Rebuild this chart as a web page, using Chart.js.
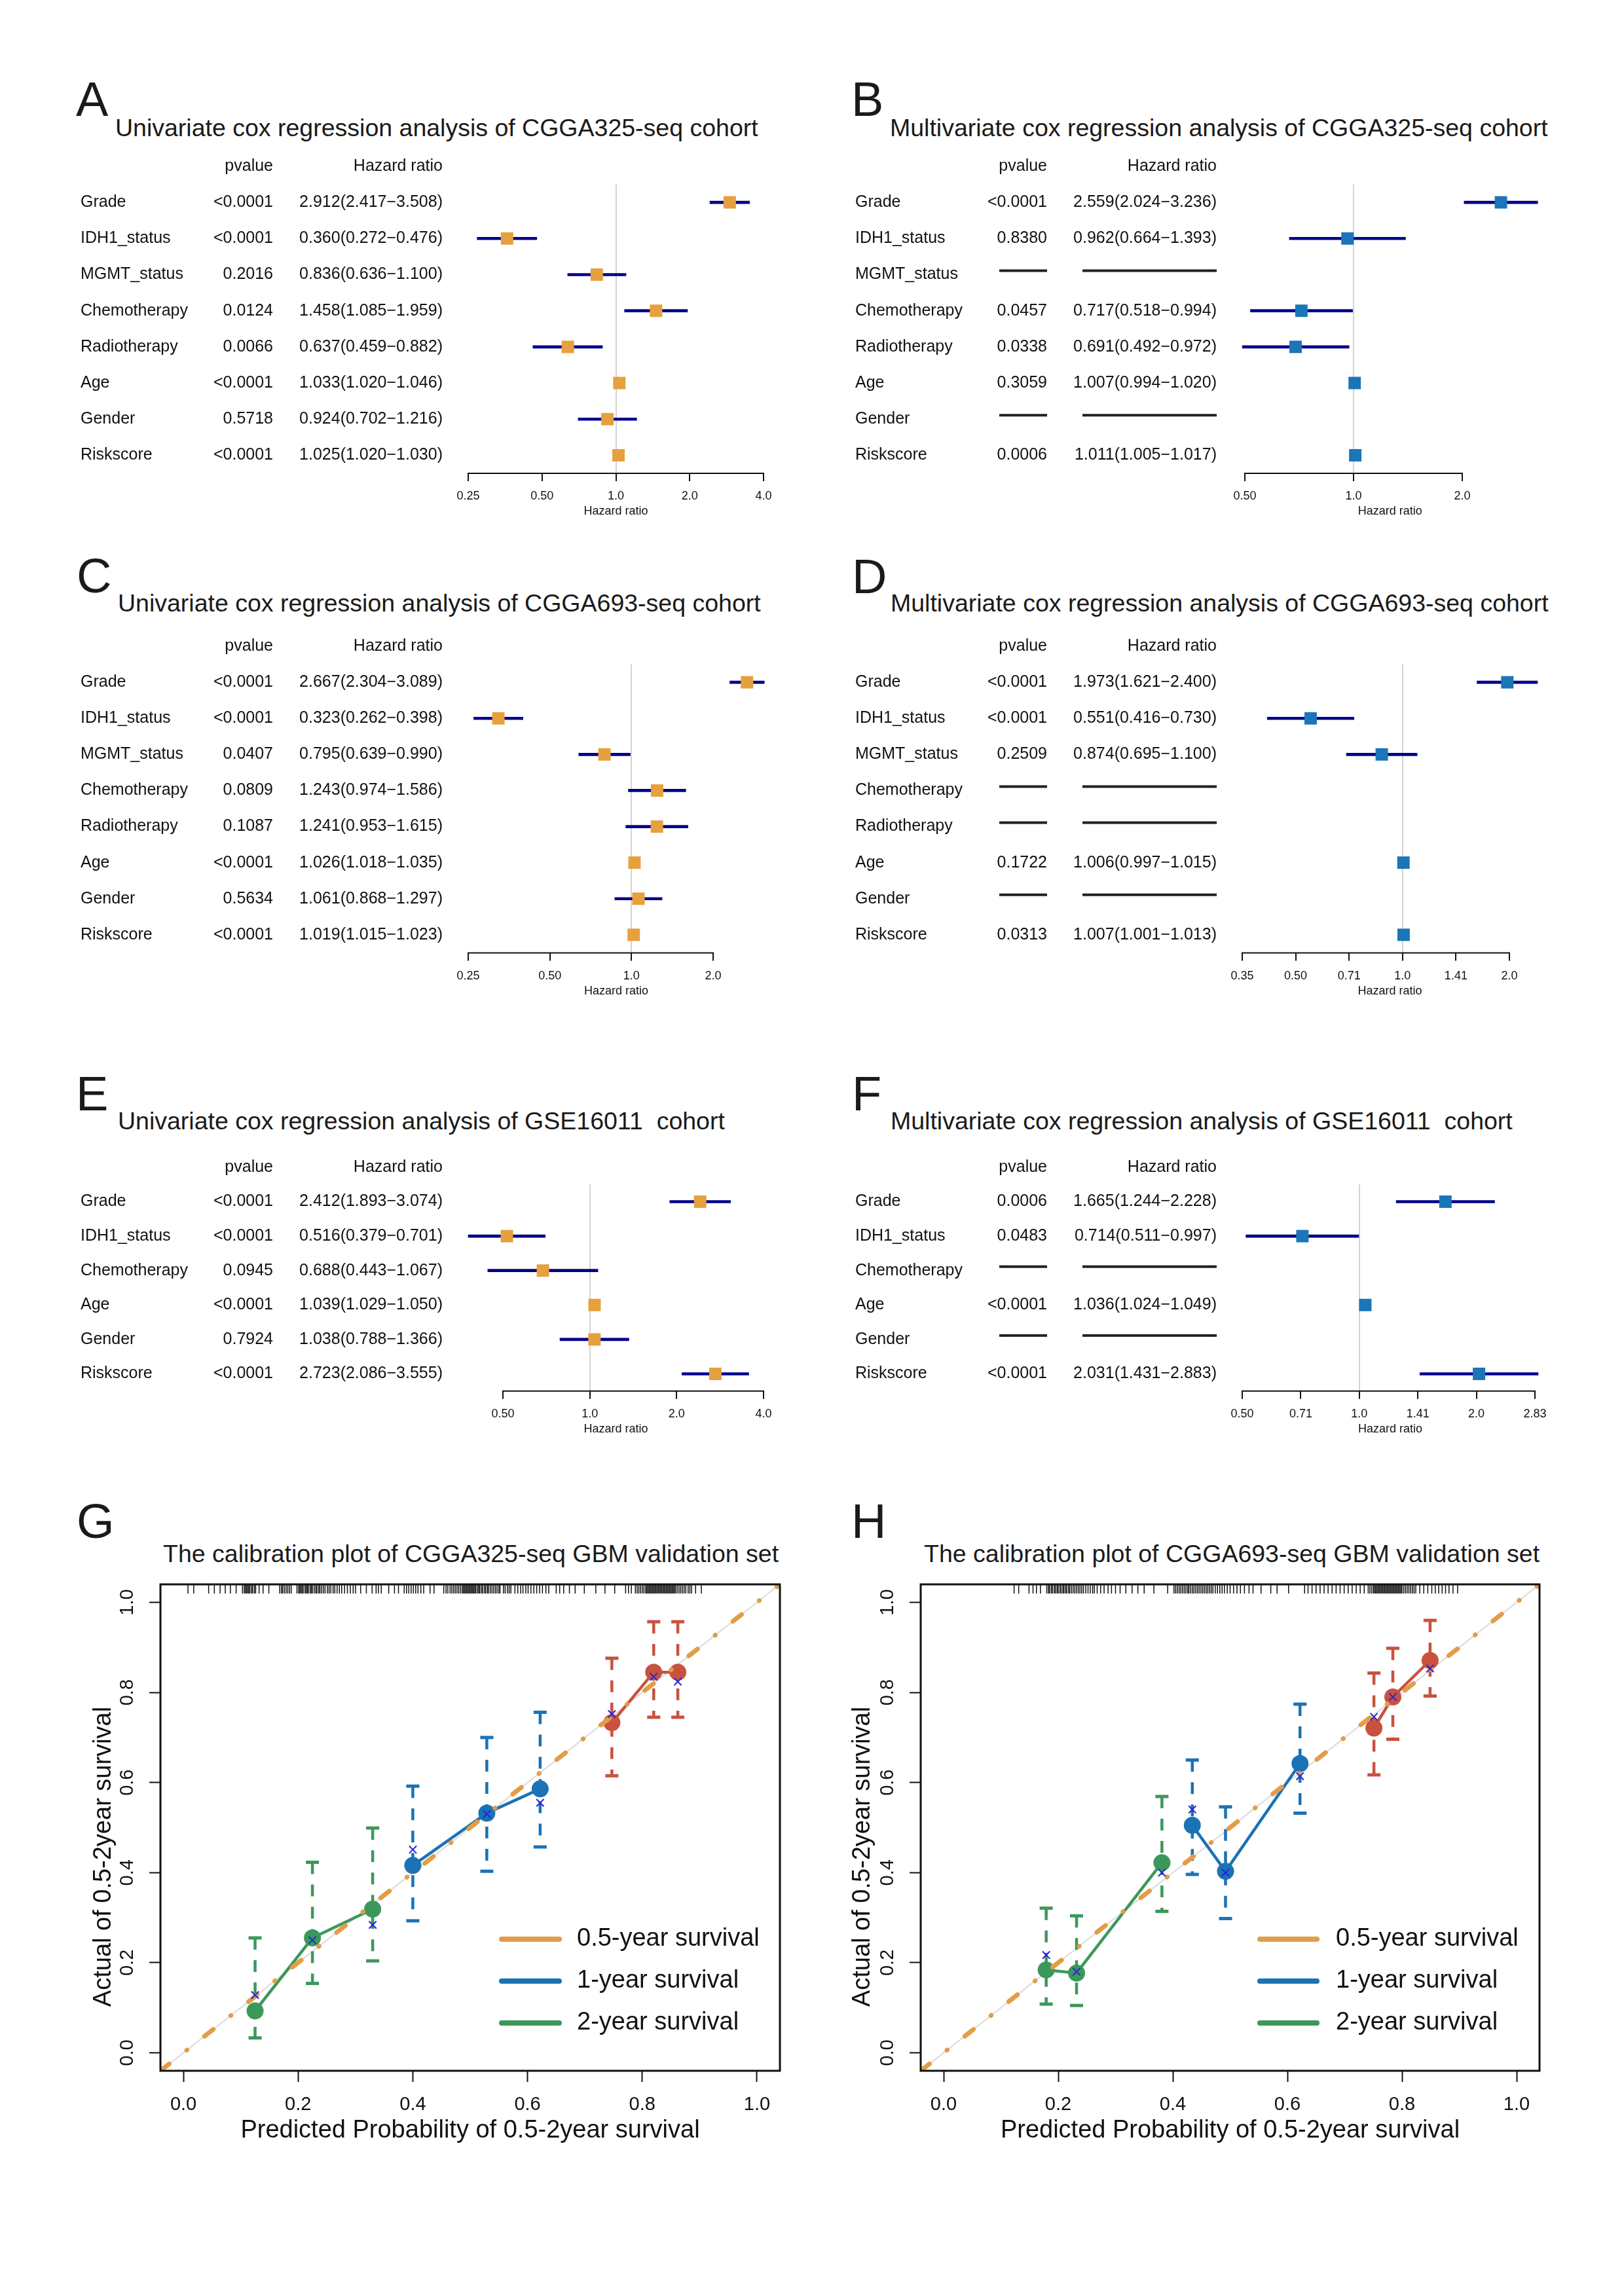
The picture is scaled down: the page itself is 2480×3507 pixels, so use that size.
<!DOCTYPE html>
<html>
<head>
<meta charset="utf-8">
<script src="https://cdn.jsdelivr.net/npm/chart.js@4.4.1/dist/chart.umd.min.js"></script>
<style>
html, body { margin: 0; padding: 0; background: #fff; }
body { position: relative; width: 2480px; height: 3507px; overflow: hidden; }
canvas { position: absolute; }
.t { position: absolute; white-space: pre; color: #1a1a1a; font-family: "Liberation Sans", Arial, Helvetica, sans-serif; }
</style>
</head>
<body>
<script>
// ---------- forest plot data ----------
const rows8 = ['Grade', 'IDH1_status', 'MGMT_status', 'Chemotherapy', 'Radiotherapy', 'Age', 'Gender', 'Riskscore'];
const rows6 = ['Grade', 'IDH1_status', 'Chemotherapy', 'Age', 'Gender', 'Riskscore'];

// A: univariate CGGA325
const pA  = ['<0.0001', '<0.0001', '0.2016', '0.0124', '0.0066', '<0.0001', '0.5718', '<0.0001'];
const hrA = [2.912, 0.360, 0.836, 1.458, 0.637, 1.033, 0.924, 1.025];
const loA = [2.417, 0.272, 0.636, 1.085, 0.459, 1.020, 0.702, 1.020];
const hiA = [3.508, 0.476, 1.100, 1.959, 0.882, 1.046, 1.216, 1.030];
// B: multivariate CGGA325
const pB  = ['<0.0001', '0.8380', null, '0.0457', '0.0338', '0.3059', null, '0.0006'];
const hrB = [2.559, 0.962, null, 0.717, 0.691, 1.007, null, 1.011];
const loB = [2.024, 0.664, null, 0.518, 0.492, 0.994, null, 1.005];
const hiB = [3.236, 1.393, null, 0.994, 0.972, 1.020, null, 1.017];
// C: univariate CGGA693
const pC  = ['<0.0001', '<0.0001', '0.0407', '0.0809', '0.1087', '<0.0001', '0.5634', '<0.0001'];
const hrC = [2.667, 0.323, 0.795, 1.243, 1.241, 1.026, 1.061, 1.019];
const loC = [2.304, 0.262, 0.639, 0.974, 0.953, 1.018, 0.868, 1.015];
const hiC = [3.089, 0.398, 0.990, 1.586, 1.615, 1.035, 1.297, 1.023];
// D: multivariate CGGA693
const pD  = ['<0.0001', '<0.0001', '0.2509', null, null, '0.1722', null, '0.0313'];
const hrD = [1.973, 0.551, 0.874, null, null, 1.006, null, 1.007];
const loD = [1.621, 0.416, 0.695, null, null, 0.997, null, 1.001];
const hiD = [2.400, 0.730, 1.100, null, null, 1.015, null, 1.013];
// E: univariate GSE16011
const pE  = ['<0.0001', '<0.0001', '0.0945', '<0.0001', '0.7924', '<0.0001'];
const hrE = [2.412, 0.516, 0.688, 1.039, 1.038, 2.723];
const loE = [1.893, 0.379, 0.443, 1.029, 0.788, 2.086];
const hiE = [3.074, 0.701, 1.067, 1.050, 1.366, 3.555];
// F: multivariate GSE16011
const pF  = ['0.0006', '0.0483', null, '<0.0001', null, '<0.0001'];
const hrF = [1.665, 0.714, null, 1.036, null, 2.031];
const loF = [1.244, 0.511, null, 1.024, null, 1.431];
const hiF = [2.228, 0.997, null, 1.049, null, 2.883];

// axis ticks of the forest plots
const ticksA = [0.25, 0.5, 1, 2, 4];           const tickLabA = ['0.25', '0.50', '1.0', '2.0', '4.0'];
const ticksB = [0.5, 1, 2];                    const tickLabB = ['0.50', '1.0', '2.0'];
const ticksC = [0.25, 0.5, 1, 2];              const tickLabC = ['0.25', '0.50', '1.0', '2.0'];
const ticksD = [0.3536, 0.5, 0.7071, 1, 1.4142, 2];   const tickLabD = ['0.35', '0.50', '0.71', '1.0', '1.41', '2.0'];
const ticksE = [0.5, 1, 2, 4];                 const tickLabE = ['0.50', '1.0', '2.0', '4.0'];
const ticksF = [0.5, 0.7071, 1, 1.4142, 2, 2.8284];   const tickLabF = ['0.50', '0.71', '1.0', '1.41', '2.0', '2.83'];

// ---------- calibration data (groups: 2-year = 0..2, 1-year = 3..5, 0.5-year = 6..8) ----------
const gPred = [0.125, 0.225, 0.330, 0.400, 0.529, 0.622, 0.747, 0.820, 0.862];
const gObs  = [0.093, 0.255, 0.319, 0.416, 0.532, 0.586, 0.733, 0.845, 0.845];
const gLo   = [0.033, 0.154, 0.204, 0.293, 0.403, 0.457, 0.615, 0.745, 0.745];
const gHi   = [0.255, 0.423, 0.499, 0.592, 0.700, 0.756, 0.876, 0.957, 0.957];
const gCorr = [0.128, 0.250, 0.284, 0.451, 0.530, 0.555, 0.752, 0.835, 0.824];

const hPred = [0.179, 0.232, 0.381, 0.434, 0.492, 0.622, 0.751, 0.784, 0.849];
const hObs  = [0.184, 0.177, 0.422, 0.505, 0.403, 0.642, 0.721, 0.790, 0.871];
const hLo   = [0.108, 0.105, 0.314, 0.396, 0.298, 0.532, 0.617, 0.696, 0.792];
const hHi   = [0.321, 0.304, 0.569, 0.650, 0.546, 0.774, 0.843, 0.898, 0.960];
const hCorr = [0.217, 0.180, 0.400, 0.540, 0.400, 0.614, 0.746, 0.790, 0.853];

const gRug = [0.008, 0.018, 0.044, 0.054, 0.064, 0.073, 0.082, 0.092,
  0.103, 0.106, 0.108, 0.110, 0.112, 0.114, 0.116, 0.119, 0.121, 0.124, 0.126, 0.132, 0.139, 0.149,
  0.168, 0.171, 0.173, 0.176, 0.179, 0.182, 0.185, 0.188,
  0.198, 0.201, 0.203, 0.205, 0.207, 0.209, 0.212, 0.214, 0.216, 0.218, 0.221, 0.223, 0.225, 0.228,
  0.231, 0.233, 0.236, 0.238, 0.241, 0.244, 0.247, 0.251, 0.254, 0.257, 0.261, 0.264, 0.268, 0.272,
  0.276, 0.281, 0.286, 0.291, 0.296, 0.300, 0.309, 0.319, 0.329, 0.336, 0.340, 0.345, 0.358, 0.368, 0.375,
  0.385, 0.389, 0.393, 0.397, 0.401, 0.405, 0.409, 0.414, 0.419, 0.430, 0.437,
  0.454, 0.458, 0.461, 0.465, 0.468, 0.471, 0.474, 0.477, 0.480, 0.483, 0.486, 0.488, 0.490, 0.492,
  0.494, 0.496, 0.498, 0.500, 0.502, 0.504, 0.506, 0.508, 0.510, 0.513, 0.515, 0.517, 0.520, 0.522,
  0.525, 0.527, 0.530, 0.532, 0.535, 0.538, 0.541, 0.544, 0.547, 0.550, 0.552,
  0.558, 0.561, 0.565, 0.568, 0.571, 0.578, 0.583, 0.588, 0.592, 0.597, 0.601, 0.606, 0.611, 0.616,
  0.621, 0.626, 0.632, 0.637, 0.650, 0.656, 0.663, 0.673, 0.683, 0.699, 0.719, 0.735, 0.752, 0.771, 0.776, 0.781,
  0.788, 0.791, 0.794, 0.797, 0.800, 0.803, 0.806, 0.808, 0.810, 0.812, 0.814, 0.816, 0.818, 0.820,
  0.822, 0.824, 0.826, 0.828, 0.830, 0.832, 0.834, 0.836, 0.838, 0.840, 0.842, 0.844, 0.846, 0.848,
  0.850, 0.852, 0.854, 0.856, 0.858, 0.861, 0.864, 0.867, 0.870, 0.873, 0.876, 0.880, 0.883, 0.886,
  0.893, 0.903];

const hRug = [0.123, 0.131, 0.149, 0.156, 0.162, 0.169,
  0.180, 0.183, 0.185, 0.188, 0.190, 0.193, 0.195, 0.198, 0.200, 0.203, 0.205, 0.208, 0.210, 0.213,
  0.215, 0.218, 0.220, 0.223, 0.226, 0.229, 0.232, 0.235, 0.238, 0.241, 0.244, 0.248, 0.252, 0.256, 0.260, 0.263,
  0.268, 0.274, 0.280, 0.287, 0.293, 0.300, 0.308, 0.318, 0.329, 0.339, 0.350, 0.367, 0.391,
  0.402, 0.405, 0.408, 0.411, 0.414, 0.417, 0.420, 0.423, 0.426, 0.428, 0.431, 0.434, 0.437, 0.440,
  0.443, 0.446, 0.449, 0.452, 0.455, 0.458, 0.461, 0.464, 0.467, 0.470, 0.474, 0.478, 0.482, 0.486,
  0.490, 0.495, 0.500, 0.506, 0.512, 0.518, 0.525, 0.533, 0.540, 0.554, 0.571, 0.582, 0.602,
  0.630, 0.636, 0.643, 0.650, 0.657, 0.664, 0.671, 0.678, 0.685, 0.692, 0.699, 0.706, 0.713, 0.720,
  0.727, 0.734, 0.741, 0.744, 0.747, 0.750, 0.752, 0.754, 0.756, 0.758, 0.760, 0.762, 0.764, 0.766,
  0.768, 0.770, 0.772, 0.774, 0.776, 0.778, 0.780, 0.782, 0.784, 0.786, 0.788, 0.790, 0.792, 0.794,
  0.796, 0.798, 0.800, 0.803, 0.806, 0.809, 0.812, 0.815, 0.818, 0.821, 0.824,
  0.831, 0.838, 0.845, 0.852, 0.858, 0.864, 0.870, 0.876, 0.882, 0.889, 0.897];

const calTicks = [0, 0.2, 0.4, 0.6, 0.8, 1.0];
const legendLabels = ['0.5-year survival', '1-year survival', '2-year survival'];

// ---------- styling ----------
const FONT = '"Liberation Sans", Arial, Helvetica, sans-serif';
const SQ_ORANGE = '#E6A03E';
const SQ_BLUE = '#1A75B9';
const CI_NAVY = '#00008B';
const GREEN = '#3C985A', BLUE = '#1B72B4', RED = '#C8523E', ORANGE = '#E39D47', XBLUE = '#2525DD';
const LEG_COLORS = [ORANGE, BLUE, GREEN];

Chart.defaults.font.family = FONT;
Chart.defaults.color = '#111';
Chart.defaults.animation = false;

function addText(txt, x, base, size) {
  const d = document.createElement('div');
  d.className = 't';
  d.textContent = txt;
  d.style.left = x + 'px';
  d.style.top = (base - 0.8465 * size) + 'px';
  d.style.fontSize = size + 'px';
  d.style.lineHeight = size + 'px';
  document.body.appendChild(d);
}

function newCanvas(left, top, w, h) {
  const cv = document.createElement('canvas');
  cv.width = w; cv.height = h;
  cv.style.left = left + 'px'; cv.style.top = top + 'px';
  cv.style.width = w + 'px'; cv.style.height = h + 'px';
  document.body.appendChild(cv);
  return cv;
}

// ---------- forest plot ----------
const AXIS_H = 73;
function forest(o) {
  const cv = newCanvas(o.left, o.top, o.w, o.h);
  const t0 = o.ticks[0], tN = o.ticks[o.ticks.length - 1];
  // page x of a value, from where the first and last ticks sit
  const pageX = v => o.x0 + (o.x1 - o.x0) * (Math.log(v) - Math.log(t0)) / (Math.log(tN) - Math.log(t0));
  const xmin = Math.min(t0, ...o.lo.filter(v => v != null));
  const xmax = Math.max(tN, ...o.hi.filter(v => v != null));
  const pad = { left: pageX(xmin) - o.left, right: o.left + o.w - pageX(xmax),
                top: o.yTop - o.top, bottom: o.top + o.h - o.yBot - AXIS_H };
  const ci = o.lo.map((l, i) => l == null ? null : [l, o.hi[i]]);

  const table = {
    id: 'table',
    afterDraw(chart) {
      const ctx = chart.ctx, ys = chart.scales.y, xs = chart.scales.x, a = chart.chartArea;
      ctx.save();
      // axis line only between the first and last tick
      ctx.strokeStyle = '#111'; ctx.lineWidth = 2;
      ctx.beginPath();
      ctx.moveTo(xs.getPixelForValue(t0) - 1, a.bottom);
      ctx.lineTo(xs.getPixelForValue(tN) + 1, a.bottom);
      ctx.stroke();

      const step = ys.getPixelForValue(1) - ys.getPixelForValue(0);
      const [cL, cP, cH] = o.cols;
      ctx.font = '25px ' + FONT;
      ctx.fillStyle = '#111';
      ctx.textBaseline = 'middle';
      ctx.textAlign = 'right';
      const hy = ys.getPixelForValue(0) - step;
      ctx.fillText('pvalue', cP, hy);
      ctx.fillText('Hazard ratio', cH, hy);
      o.rows.forEach((r, i) => {
        const y = ys.getPixelForValue(i);
        ctx.textAlign = 'left';
        ctx.fillText(r, cL, y);
        ctx.textAlign = 'right';
        if (o.p[i] == null) {
          ctx.fillStyle = '#222';
          ctx.fillRect(cP - 73, y - 8, 73, 4);
          ctx.fillRect(cH - 205, y - 8, 205, 4);
          ctx.fillStyle = '#111';
        } else {
          ctx.fillText(o.p[i], cP, y);
          ctx.fillText(o.hr[i].toFixed(3) + '(' + o.lo[i].toFixed(3) + '\u2212' + o.hi[i].toFixed(3) + ')', cH, y);
        }
      });
      ctx.restore();
    }
  };

  new Chart(cv, {
    type: 'bar',
    data: {
      labels: o.rows,
      datasets: [
        { type: 'line', indexAxis: 'y', data: o.hr, showLine: false, pointStyle: 'rect',
          pointRadius: 13.4, pointHoverRadius: 13.4, pointBackgroundColor: o.color,
          pointBorderWidth: 0, clip: false, order: 0 },
        { type: 'bar', indexAxis: 'y', data: ci, backgroundColor: CI_NAVY, barThickness: 4,
          borderWidth: 0, clip: false, order: 1 }
      ]
    },
    options: {
      indexAxis: 'y',
      responsive: false,
      devicePixelRatio: 1,
      animation: false,
      layout: { padding: pad },
      plugins: { legend: { display: false }, tooltip: { enabled: false } },
      scales: {
        x: {
          type: 'logarithmic', min: xmin, max: xmax, bounds: 'data',
          afterBuildTicks: s => { s.ticks = o.ticks.map(v => ({ value: v })); },
          afterFit: s => { s.height = AXIS_H; },
          ticks: { autoSkip: false, maxRotation: 0, minRotation: 0, padding: 12.5, color: '#111',
                   font: { size: 18 }, callback: (v, i) => o.tickLabels[i] },
          grid: { color: c => (c.tick && c.tick.value === 1) ? '#d4d4d4' : 'rgba(0,0,0,0)',
                  lineWidth: 2, tickColor: '#111', tickLength: 12, tickWidth: 2 },
          border: { display: false },
          title: { display: true, text: 'Hazard ratio', color: '#111', font: { size: 18 }, padding: { top: 0, bottom: 4 } }
        },
        y: { display: false }
      }
    },
    plugins: [table]
  });
}

// ---------- calibration plot ----------
const AX_MIN = -0.04, AX_MAX = 1.04;
const CAL_X_H = 118, CAL_Y_W = 20;
function calib(o) {
  const cv = newCanvas(o.left, o.top, o.w, o.h);
  const [bL, bR, bT, bB] = o.box;
  const pad = { left: bL - CAL_Y_W - o.left, right: o.left + o.w - bR, top: bT - o.top, bottom: o.top + o.h - bB - CAL_X_H };
  const pxPerY = (bB - bT) / (AX_MAX - AX_MIN);
  const rugY = AX_MAX - 7 / pxPerY;
  const diag = [{ x: AX_MIN, y: AX_MIN }, { x: AX_MAX, y: AX_MAX }];

  const ds = [];
  ds.push({ data: diag, showLine: true, borderColor: '#dadada', borderWidth: 2, pointRadius: 0, order: 20 });
  const groups = [{ from: 0, to: 2, c: GREEN }, { from: 3, to: 5, c: BLUE }, { from: 6, to: 8, c: RED }];
  groups.forEach(g => {
    for (let i = g.from; i <= g.to; i++) {
      ds.push({ data: [{ x: o.pred[i], y: o.hi[i] }, { x: o.pred[i], y: o.lo[i] }], showLine: true,
                borderColor: g.c, borderWidth: 4.5, borderDash: [18, 16],
                pointStyle: 'line', pointRadius: 10, pointHoverRadius: 10,
                pointBorderColor: g.c, pointBorderWidth: 5, order: 8 });
    }
    const pts = [];
    for (let i = g.from; i <= g.to; i++) pts.push({ x: o.pred[i], y: o.obs[i] });
    ds.push({ data: pts, showLine: true, borderColor: g.c, borderWidth: 4.5, pointRadius: 13, pointHoverRadius: 13,
              pointBackgroundColor: g.c, pointBorderWidth: 0, order: 5 });
  });
  ds.push({ data: diag, showLine: true, borderColor: ORANGE, borderWidth: 7, borderDash: [17, 34, 0.5, 34],
            borderCapStyle: 'round', pointRadius: 0, order: 3 });
  ds.push({ data: o.pred.map((x, i) => ({ x, y: o.corr[i] })), showLine: false, pointStyle: 'crossRot',
            pointRadius: 8, pointHoverRadius: 8, pointBorderColor: XBLUE, pointBorderWidth: 2, order: 2 });
  ds.push({ data: o.rug.map(x => ({ x, y: rugY })), showLine: false, pointStyle: 'line', pointRotation: 90,
            pointRadius: 7, pointHoverRadius: 7, pointBorderColor: '#111', pointBorderWidth: 1.5, order: 1 });

  const deco = {
    id: 'deco',
    afterDraw(chart) {
      const ctx = chart.ctx, a = chart.chartArea, ys = chart.scales.y;
      ctx.save();
      ctx.lineWidth = 3; ctx.strokeStyle = '#111';
      ctx.strokeRect(a.left, a.top, a.right - a.left, a.bottom - a.top);
      ctx.fillStyle = '#111';
      ctx.textAlign = 'center'; ctx.textBaseline = 'middle';
      ctx.font = '29px ' + FONT;
      ys.ticks.forEach(t => {
        ctx.save();
        ctx.translate(a.left - 50, ys.getPixelForValue(t.value));
        ctx.rotate(-Math.PI / 2);
        ctx.fillText(t.value.toFixed(1), 0, 0);
        ctx.restore();
      });
      ctx.save();
      ctx.translate(a.left - o.yTitleDx, a.top + 416);
      ctx.rotate(-Math.PI / 2);
      ctx.font = '38px ' + FONT;
      ctx.fillText('Actual of 0.5-2year survival', 0, 0);
      ctx.restore();
      ctx.font = '38px ' + FONT;
      ctx.textAlign = 'left';
      legendLabels.forEach((lab, i) => {
        const ly = a.top + 542 + i * 64;
        ctx.strokeStyle = LEG_COLORS[i]; ctx.lineWidth = 8; ctx.lineCap = 'round';
        ctx.beginPath(); ctx.moveTo(a.left + o.leg[0], ly); ctx.lineTo(a.left + o.leg[1], ly); ctx.stroke();
        ctx.fillText(lab, a.left + o.leg[2], ly);
      });
      ctx.restore();
    }
  };

  new Chart(cv, {
    type: 'scatter',
    data: { datasets: ds },
    options: {
      responsive: false,
      devicePixelRatio: 1,
      animation: false,
      layout: { padding: pad },
      plugins: { legend: { display: false }, tooltip: { enabled: false } },
      scales: {
        x: {
          type: 'linear', min: AX_MIN, max: AX_MAX, bounds: 'data',
          afterBuildTicks: s => { s.ticks = calTicks.map(v => ({ value: v })); },
          afterFit: s => { s.height = CAL_X_H; },
          ticks: { autoSkip: false, maxRotation: 0, minRotation: 0, padding: 18, color: '#111',
                   font: { size: 29 }, callback: v => v.toFixed(1) },
          grid: { drawOnChartArea: false, drawTicks: true, tickLength: 17, tickWidth: 2, tickColor: '#111' },
          border: { display: false },
          title: { display: true, text: 'Predicted Probability of 0.5-2year survival', color: '#111',
                   font: { size: 38 }, padding: { top: 0, bottom: 4 } }
        },
        y: {
          type: 'linear', min: AX_MIN, max: AX_MAX, bounds: 'data',
          afterBuildTicks: s => { s.ticks = calTicks.map(v => ({ value: v })); },
          afterFit: s => { s.width = CAL_Y_W; },
          ticks: { display: false },
          grid: { drawOnChartArea: false, drawTicks: true, tickLength: 17, tickWidth: 2, tickColor: '#111' },
          border: { display: false }
        }
      }
    },
    plugins: [deco]
  });
}

// ---------- panels ----------
forest({ left: 100, top: 240, w: 1140, h: 580, x0: 715, x1: 1166, yTop: 281.5, yBot: 723, cols: [23, 317, 576],
         rows: rows8, p: pA, hr: hrA, lo: loA, hi: hiA, ticks: ticksA, tickLabels: tickLabA, color: SQ_ORANGE });
forest({ left: 1280, top: 240, w: 1150, h: 580, x0: 1901, x1: 2233, yTop: 281.5, yBot: 723, cols: [26, 319, 578],
         rows: rows8, p: pB, hr: hrB, lo: loB, hi: hiB, ticks: ticksB, tickLabels: tickLabB, color: SQ_BLUE });
forest({ left: 100, top: 960, w: 1140, h: 580, x0: 715, x1: 1089, yTop: 1014.6, yBot: 1455.4, cols: [23, 317, 576],
         rows: rows8, p: pC, hr: hrC, lo: loC, hi: hiC, ticks: ticksC, tickLabels: tickLabC, color: SQ_ORANGE });
forest({ left: 1280, top: 960, w: 1150, h: 580, x0: 1897, x1: 2305, yTop: 1014.6, yBot: 1455.4, cols: [26, 319, 578],
         rows: rows8, p: pD, hr: hrD, lo: loD, hi: hiD, ticks: ticksD, tickLabels: tickLabD, color: SQ_BLUE });
forest({ left: 100, top: 1760, w: 1140, h: 480, x0: 768, x1: 1166, yTop: 1809.2, yBot: 2124.8, cols: [23, 317, 576],
         rows: rows6, p: pE, hr: hrE, lo: loE, hi: hiE, ticks: ticksE, tickLabels: tickLabE, color: SQ_ORANGE });
forest({ left: 1280, top: 1760, w: 1150, h: 480, x0: 1897, x1: 2344, yTop: 1809.2, yBot: 2124.8, cols: [26, 319, 578],
         rows: rows6, p: pF, hr: hrF, lo: loF, hi: hiF, ticks: ticksF, tickLabels: tickLabF, color: SQ_BLUE });

calib({ left: 100, top: 2400, w: 1140, h: 900, box: [245, 1191, 2420, 3163], yTitleDx: 86, leg: [521, 609, 636],
        pred: gPred, obs: gObs, lo: gLo, hi: gHi, corr: gCorr, rug: gRug });
calib({ left: 1280, top: 2400, w: 1150, h: 900, box: [1406, 2351, 2420, 3163], yTitleDx: 88, leg: [518, 605, 634],
        pred: hPred, obs: hObs, lo: hLo, hi: hHi, corr: hCorr, rug: hRug });

// ---------- panel letters and titles ----------
addText('A', 116, 178, 74);
addText('B', 1300, 178, 74);
addText('C', 117, 906, 74);
addText('D', 1301, 907, 74);
addText('E', 116, 1697, 74);
addText('F', 1301, 1697, 74);
addText('G', 117, 2350, 74);
addText('H', 1300, 2350, 74);

addText('Univariate cox regression analysis of CGGA325-seq cohort', 176, 209, 37.5);
addText('Multivariate cox regression analysis of CGGA325-seq cohort', 1359, 209, 37.5);
addText('Univariate cox regression analysis of CGGA693-seq cohort', 180, 935, 37.5);
addText('Multivariate cox regression analysis of CGGA693-seq cohort', 1360, 935, 37.5);
addText('Univariate cox regression analysis of GSE16011  cohort', 180, 1726, 37.5);
addText('Multivariate cox regression analysis of GSE16011  cohort', 1360, 1726, 37.5);
addText('The calibration plot of CGGA325-seq GBM validation set', 249, 2387, 37.5);
addText('The calibration plot of CGGA693-seq GBM validation set', 1411, 2387, 37.5);
</script>
</body>
</html>
